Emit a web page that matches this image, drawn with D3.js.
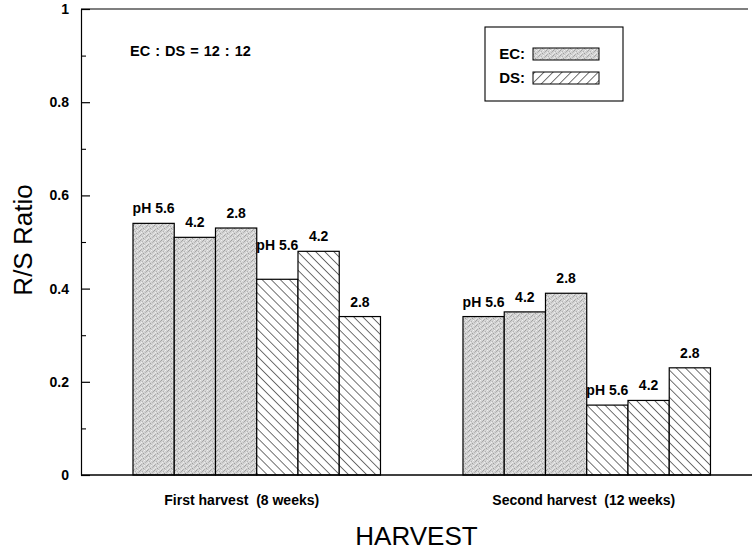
<!DOCTYPE html>
<html>
<head>
<meta charset="utf-8">
<script src="https://cdn.jsdelivr.net/npm/d3@7"></script>
<style>
  body { margin: 0; background: #fff; }
  svg { display: block; font-family: "Liberation Sans", Arial, Helvetica, sans-serif; }
</style>
</head>
<body>
<div id="chart"></div>
<script>
// Data
const harvests = ["First harvest  (8 weeks)", "Second harvest  (12 weeks)"];
const phLevels = ["pH 5.6", "4.2", "2.8"];
const treatments = ["EC", "DS"];
const ecValues = [[0.54, 0.51, 0.53], [0.34, 0.35, 0.39]];
const dsValues = [[0.42, 0.48, 0.34], [0.15, 0.16, 0.23]];
const yTicks = [0, 0.2, 0.4, 0.6, 0.8, 1];
const yMinorTicks = [0.1, 0.3, 0.5, 0.7, 0.9];

const width = 755;
const height = 550;
const margin = { top: 9, right: 3, bottom: 75, left: 81 };

const svg = d3.select('#chart')
  .append('svg')
  .attr('width', width)
  .attr('height', height);

const defs = svg.append('defs');

// stipple texture for EC (fixed irregular tile)
const stip = defs.append('pattern')
  .attr('id', 'stipple')
  .attr('patternUnits', 'userSpaceOnUse')
  .attr('width', 7).attr('height', 5);
stip.append('rect').attr('width', 7).attr('height', 5).attr('fill', '#d3d3d3');
[[0, 0, '#a0a0a0'], [4, 0, '#efefef'], [2, 1, '#b4b4b4'], [6, 1, '#a8a8a8'],
 [1, 2, '#ececec'], [5, 2, '#b8b8b8'], [3, 3, '#9e9e9e'], [0, 3, '#e6e6e6'],
 [6, 4, '#eaeaea'], [1, 4, '#b0b0b0'], [4, 4, '#c0c0c0'], [3, 1, '#e2e2e2']]
  .forEach(([px, py, c]) => stip.append('rect')
    .attr('x', px).attr('y', py).attr('width', 1).attr('height', 1).attr('fill', c));

// hatch for DS bars ("\") and legend ("/")
function hatch(id, angle) {
  const p = defs.append('pattern')
    .attr('id', id)
    .attr('patternUnits', 'userSpaceOnUse')
    .attr('width', 6.4).attr('height', 6.4)
    .attr('patternTransform', `rotate(${angle})`);
  p.append('rect').attr('width', 6.4).attr('height', 6.4).attr('fill', '#fff');
  p.append('line')
    .attr('x1', 0).attr('y1', 0).attr('x2', 0).attr('y2', 6.4)
    .attr('stroke', '#000').attr('stroke-width', 1.1);
}
hatch('hatchBar', -45);
hatch('hatchLegend', 45);

const fills = { EC: 'url(#stipple)', DS: 'url(#hatchBar)' };

// Scales
const x0 = d3.scaleBand()
  .domain(harvests)
  .range([margin.left, width - margin.right])
  .paddingInner(0.25)
  .paddingOuter(0.1417)
  .align(0.556);

const bars = [];
treatments.forEach(t => phLevels.forEach(ph => bars.push(t + '|' + ph)));

const x1 = d3.scaleBand()
  .domain(bars)
  .range([0, x0.bandwidth()]);

const y = d3.scaleLinear()
  .domain([0, 1])
  .range([height - margin.bottom, margin.top]);

// Frame
svg.append('line')
  .attr('x1', margin.left).attr('x2', 748)
  .attr('y1', y(1)).attr('y2', y(1))
  .attr('stroke', '#000').attr('stroke-width', 1.2);

// Bars
const rows = [];
harvests.forEach((h, hi) => {
  phLevels.forEach((ph, pi) => {
    rows.push({ harvest: h, treatment: 'EC', ph, value: ecValues[hi][pi] });
  });
  phLevels.forEach((ph, pi) => {
    rows.push({ harvest: h, treatment: 'DS', ph, value: dsValues[hi][pi] });
  });
});

const plot = svg.append('g');

plot.selectAll('.bar')
  .data(rows)
  .enter()
  .append('rect')
  .attr('class', 'bar')
  .attr('x', d => x0(d.harvest) + x1(d.treatment + '|' + d.ph))
  .attr('y', d => y(d.value))
  .attr('width', x1.bandwidth())
  .attr('height', d => y(0) - y(d.value))
  .attr('fill', d => fills[d.treatment])
  .attr('stroke', '#000')
  .attr('stroke-width', 1.2);

// Bar labels
plot.selectAll('.bar-label')
  .data(rows)
  .enter()
  .append('text')
  .attr('class', 'bar-label')
  .attr('x', d => x0(d.harvest) + x1(d.treatment + '|' + d.ph) + x1.bandwidth() / 2)
  .attr('y', (d, i) => {
    let base = y(d.value) - 10;
    // wide label next to a taller neighbour gets lifted above it
    const next = rows[i + 1];
    if (d.ph.length > 3 && next && next.harvest === d.harvest && next.value - d.value > 0.05) {
      base = y(next.value) - 1;
    }
    return base;
  })
  .attr('text-anchor', 'middle')
  .style('font-size', '14px')
  .style('font-weight', 'bold')
  .text(d => d.ph);

// Y axis
const yAxis = svg.append('g')
  .attr('transform', `translate(${margin.left},0)`)
  .call(d3.axisLeft(y)
    .tickValues(yTicks)
    .tickFormat(d3.format('~g'))
    .tickSizeInner(-9)
    .tickSizeOuter(0)
    .tickPadding(12));
yAxis.selectAll('path, line').attr('stroke', '#000').attr('stroke-width', 1.2);
yAxis.selectAll('text')
  .style('font-size', '14px')
  .style('font-weight', 'bold')
  .style('font-family', '"Liberation Sans", Arial, sans-serif')
  .attr('fill', '#000');

const yMinor = svg.append('g')
  .attr('transform', `translate(${margin.left},0)`)
  .call(d3.axisLeft(y).tickValues(yMinorTicks).tickSizeInner(-5).tickSizeOuter(0).tickFormat(''));
yMinor.select('.domain').remove();
yMinor.selectAll('line').attr('stroke', '#000').attr('stroke-width', 1.1);

// X axis
svg.append('line')
  .attr('x1', margin.left).attr('x2', 752)
  .attr('y1', y(0)).attr('y2', y(0))
  .attr('stroke', '#000').attr('stroke-width', 1.3);

const xAxis = svg.append('g')
  .attr('transform', `translate(0,${y(0)})`)
  .call(d3.axisBottom(x0).tickSize(0).tickPadding(20));
xAxis.select('.domain').remove();
xAxis.selectAll('text')
  .attr('dx', (d, i) => i === 0 ? -15 : -3)
  .style('font-size', '14px')
  .style('font-weight', 'bold')
  .style('font-family', '"Liberation Sans", Arial, sans-serif')
  .style('white-space', 'pre')
  .attr('fill', '#000');

// Axis titles
svg.append('text')
  .attr('x', (margin.left + 752) / 2)
  .attr('y', 545)
  .attr('text-anchor', 'middle')
  .style('font-size', '26px')
  .text('HARVEST');

svg.append('text')
  .attr('transform', 'translate(32,240) rotate(-90)')
  .attr('text-anchor', 'middle')
  .style('font-size', '26px')
  .text('R/S Ratio');

// Annotation
svg.append('text')
  .attr('x', 130)
  .attr('y', 56)
  .style('font-size', '14.5px')
  .style('font-weight', 'bold')
  .style('word-spacing', '1px')
  .text('EC : DS = 12 : 12');

// Legend
const legend = svg.append('g');
legend.append('rect')
  .attr('x', 485).attr('y', 27)
  .attr('width', 138).attr('height', 74)
  .attr('fill', '#fff')
  .attr('stroke', '#000')
  .attr('stroke-width', 1.1);

const legendFills = { EC: 'url(#stipple)', DS: 'url(#hatchLegend)' };
treatments.forEach((t, i) => {
  legend.append('text')
    .attr('x', 525)
    .attr('y', 59 + i * 24)
    .attr('text-anchor', 'end')
    .style('font-size', '15px')
    .style('font-weight', 'bold')
    .text(t + ':');
  legend.append('rect')
    .attr('x', 533).attr('y', 48 + i * 24)
    .attr('width', 66).attr('height', 12)
    .attr('fill', legendFills[t])
    .attr('stroke', '#000')
    .attr('stroke-width', 1);
});
</script>
</body>
</html>
